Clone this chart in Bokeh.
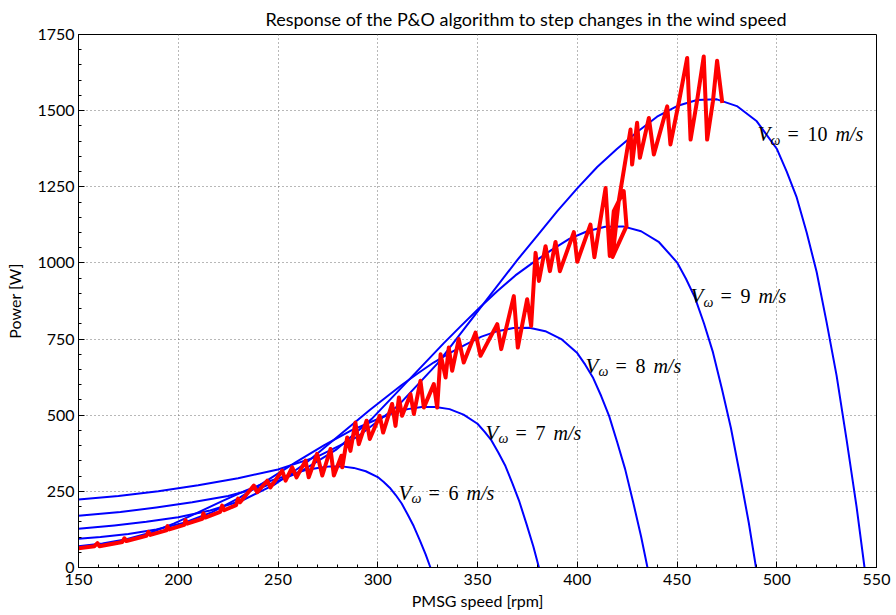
from bokeh.plotting import figure
from bokeh.models import Range1d, FixedTicker, Label, Title
from bokeh.embed import file_html
from bokeh.resources import INLINE

# ---- data ----
v6_rpm = [150, 162, 174, 186, 198, 210, 222, 234, 246, 258, 264, 270, 276, 282, 288, 294, 300, 303, 306, 309, 312, 315, 318, 321, 324, 326.4]
v6_p = [70, 79, 93, 114, 145, 181, 218, 253, 284, 309, 320, 327, 332, 332, 327, 316, 297, 281, 262, 238, 210, 174, 136, 91, 43, 0]

v7_rpm = [150, 161, 175, 189, 203, 217, 231, 245, 259, 273, 287, 301, 308, 315, 322, 329, 336, 343, 350, 353.5, 357, 360.5, 364, 367.5, 371, 374.5, 378, 380.8]
v7_p = [94, 100, 110, 125, 147, 182, 230, 288, 346, 401, 451, 490, 508, 520, 527, 527, 520, 502, 472, 446, 417, 377, 333, 276, 216, 144, 69, 0]

v8_rpm = [150, 168, 184, 200, 216, 232, 248, 264, 280, 296, 304, 312, 320, 328, 336, 344, 352, 360, 368, 376, 384, 392, 400, 404, 408, 412, 416, 420, 424, 428, 432, 435.2]
v8_p = [127, 138, 150, 165, 187, 220, 271, 343, 430, 517, 558, 599, 637, 673, 704, 732, 758, 776, 786, 787, 776, 750, 704, 666, 622, 563, 497, 412, 323, 215, 102, 0]

v9_rpm = [150, 171, 189, 207, 225, 243, 261, 279, 297, 315, 333, 342, 351, 360, 369, 378, 387, 396, 405, 414, 423, 432, 441, 450, 454.5, 459, 463.5, 468, 472.5, 477, 481.5, 486, 489.6]
v9_p = [170, 182, 197, 214, 235, 266, 313, 386, 488, 612, 736, 795, 853, 908, 959, 1002, 1042, 1079, 1104, 1119, 1120, 1104, 1068, 1002, 948, 886, 802, 707, 587, 459, 306, 146, 0]

v10_rpm = [150, 170, 190, 210, 230, 250, 270, 290, 310, 330, 350, 370, 380, 390, 400, 410, 420, 430, 440, 450, 460, 470, 480, 490, 500, 505, 510, 515, 520, 525, 530, 535, 540, 544]
v10_p = [223, 235, 250, 270, 293, 322, 365, 430, 530, 670, 840, 1010, 1090, 1170, 1245, 1315, 1375, 1430, 1480, 1515, 1535, 1537, 1515, 1465, 1375, 1300, 1215, 1100, 970, 805, 630, 420, 200, 0]

red_rpm = [150, 158, 159.5, 160.5, 172, 173, 174, 184, 185, 186, 194, 194.6, 195.5, 203, 203.6, 204.5,
           212, 212.6, 213.5, 221, 222, 223, 229, 230, 231,
           237.9, 239.6, 244.6, 246.2, 252.1, 253.8, 257.1, 259.3, 263.8, 265.4, 269.6, 272.2, 276.3, 278, 281.8, 282.2,
           284.7, 286.3, 288.8, 290.5, 294.4, 296, 301, 302.7, 307.2, 308.9, 310.6, 312.2, 316.4, 318.1, 321.4, 323.1, 328.1, 329.8,
           331.5, 334, 335.6, 337.3, 340.6, 343.1, 349, 351.5, 359.9, 361.9, 368.2, 370.2, 374.9, 376.9,
           379.1, 380.8, 384.1, 386.3, 389.1, 391.3, 398.3, 400, 406.6, 408.6, 414.2, 416.3, 418.3, 423.3, 424.7, 417.7, 420.8,
           426.7, 427.5, 430, 431.4, 435.9, 438.4, 445.1, 446.7, 451, 455.1, 456.8, 460, 463.4, 465.1, 468, 470.1, 472.7]
red_p = [63, 70, 80, 70, 84, 96, 87, 104, 117, 107, 122, 136, 125, 140, 156, 144,
         160, 178, 164, 183, 203, 188, 205, 226, 214,
         269, 247, 285, 263, 318, 285, 329, 296, 351, 296, 373, 302, 389, 302, 367, 329,
         427, 383, 476, 405, 482, 422, 498, 443, 537, 465, 558, 498, 569, 504, 613, 525, 602, 525,
         700, 624, 722, 646, 750, 673, 771, 695, 799, 717, 891, 722, 881, 793,
         1033, 941, 1055, 973, 1069, 973, 1101, 1004, 1126, 1019, 1246, 1023, 1170, 1236, 1121, 1020, 1203,
         1438, 1323, 1460, 1345, 1476, 1356, 1514, 1389, 1530, 1673, 1405, 1530, 1678, 1405, 1530, 1664, 1525]

x_ticks = [150, 200, 250, 300, 350, 400, 450, 500, 550]
y_ticks = [0, 250, 500, 750, 1000, 1250, 1500, 1750]

label_speeds = ["6", "7", "8", "9", "10"]
label_rpm = [310.4, 354.0, 404.1, 456.8, 490.3]
label_pow = [246, 442, 662, 891, 1422]

title_text = "Response of the P&O algorithm to step changes in the wind speed"
x_label = "PMSG speed [rpm]"
y_label = "Power [W]"

FONT = "Lato"

p = figure(width=896, height=615, x_range=Range1d(150, 550), y_range=Range1d(0, 1750),
           output_backend="svg", toolbar_location=None,
           min_border_left=78, min_border_right=20, min_border_top=33, min_border_bottom=48,
           title=None)
p.background_fill_color = "white"
p.border_fill_color = "white"
p.outline_line_color = "black"
p.outline_line_width = 1

t = Title(text=title_text, align="left", offset=187, text_font=FONT, text_font_size="18px",
          text_font_style="normal", text_color="black")
p.add_layout(t, "above")

x_minor = list(range(150, 551, 10))
y_minor = list(range(0, 1751, 50))

for ax, ticks, minor in ((p.xaxis[0], x_ticks, x_minor), (p.yaxis[0], y_ticks, y_minor)):
    ax.ticker = FixedTicker(ticks=ticks, minor_ticks=minor)
    ax.major_tick_in = 6
    ax.major_tick_out = 0
    ax.minor_tick_in = 3
    ax.minor_tick_out = 0
    ax.axis_line_color = "black"
    ax.major_tick_line_color = "black"
    ax.minor_tick_line_color = "black"
    ax.major_label_text_font = FONT
    ax.major_label_text_font_size = "16px"
    ax.major_label_text_color = "black"
    ax.axis_label_text_font = FONT
    ax.axis_label_text_font_size = "16px"
    ax.axis_label_text_font_style = "normal"
    ax.axis_label_text_color = "black"

p.xaxis.axis_label = x_label
p.yaxis.axis_label = y_label
p.xaxis.major_label_standoff = 6
p.xaxis.axis_label_standoff = 3
p.yaxis.major_label_standoff = 4
p.yaxis.axis_label_standoff = 10

p.xgrid.ticker = FixedTicker(ticks=x_ticks)
p.ygrid.ticker = FixedTicker(ticks=y_ticks)
for g in (p.xgrid[0], p.ygrid[0]):
    g.grid_line_color = "#707070"
    g.grid_line_dash = "1 3"
    g.grid_line_width = 1

for xs, ys in ((v6_rpm, v6_p), (v7_rpm, v7_p), (v8_rpm, v8_p), (v9_rpm, v9_p), (v10_rpm, v10_p)):
    p.line(xs, ys, line_color="#0000FF", line_width=2, line_join="round")

p.line(red_rpm, red_p, line_color="#FF0000", line_width=4, line_join="round")

SERIF = "Liberation Serif"
for spd, lx, ly in zip(label_speeds, label_rpm, label_pow):
    ms_off = 50 + 10 * len(spd) + 8
    pieces = [("V", 0, 0, "italic", "21px"),
              ("\u03c9", 13, -6, "italic", "14px"),
              ("=", 30, 0, "normal", "20px"),
              (spd, 50, 0, "normal", "20px"),
              ("m/s", ms_off, 0, "italic", "20px")]
    for txt, xo, yo, sty, sz in pieces:
        p.add_layout(Label(x=lx, y=ly, x_offset=xo, y_offset=yo, text=txt, text_font=SERIF,
                           text_font_style=sty, text_font_size=sz, text_baseline="middle",
                           text_color="black"))

open("out.html", "w").write(file_html(p, INLINE))
